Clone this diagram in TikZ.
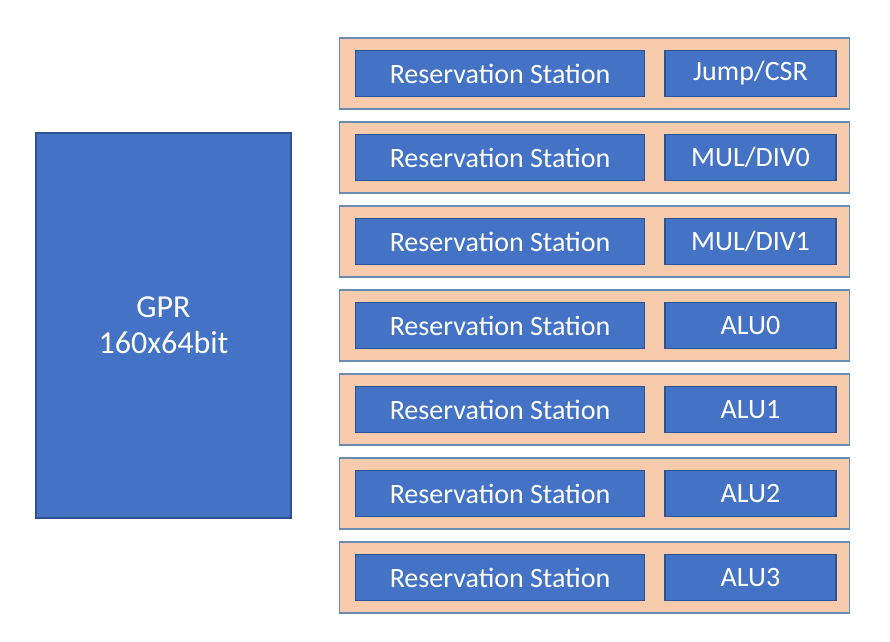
\documentclass[tikz,border=0pt]{standalone}
\usepackage{fontspec}
\setmainfont{Carlito}
\definecolor{boxblue}{HTML}{4472C4}
\definecolor{boxedge}{HTML}{2F528F}
\definecolor{rowfill}{HTML}{F8CBAD}
\definecolor{rowedge}{HTML}{6A8BB3}
\tikzset{
  gpr/.style={draw=boxedge, fill=boxblue, line width=1.2pt, text=white, align=center,
    minimum width=255pt, minimum height=385pt, font=\fontsize{32}{36}\selectfont},
  row/.style={draw=rowedge, fill=rowfill, line width=1.2pt, minimum width=510pt, minimum height=71pt},
  rs/.style={draw=boxedge, fill=boxblue, line width=1.2pt, text=white,
    minimum width=289pt, minimum height=46pt, font=\fontsize{28}{32}\selectfont},
  fu/.style={rs, minimum width=171pt}
}
\begin{document}
\begin{tikzpicture}[x=1pt,y=-1pt,inner sep=0pt]
\useasboundingbox (0,0) rectangle (890,641);

\node[gpr] (gpr) at (163.5,325.5) {GPR\\160x64bit};

% one row per functional unit
\node[row] (row1) at (594.75,73.5) {};
\node[rs] (rs1) at (500,73.5) {Reservation Station};
\node[fu] (fu1) at (750.5,73.5) {Jump/CSR};

\node[row] (row2) at (594.75,157.5) {};
\node[rs] (rs2) at (500,157.5) {Reservation Station};
\node[fu] (fu2) at (750.5,157.5) {MUL/DIV0};

\node[row] (row3) at (594.75,241.5) {};
\node[rs] (rs3) at (500,241.5) {Reservation Station};
\node[fu] (fu3) at (750.5,241.5) {MUL/DIV1};

\node[row] (row4) at (594.75,325.5) {};
\node[rs] (rs4) at (500,325.5) {Reservation Station};
\node[fu] (fu4) at (750.5,325.5) {ALU0};

\node[row] (row5) at (594.75,409.5) {};
\node[rs] (rs5) at (500,409.5) {Reservation Station};
\node[fu] (fu5) at (750.5,409.5) {ALU1};

\node[row] (row6) at (594.75,493.5) {};
\node[rs] (rs6) at (500,493.5) {Reservation Station};
\node[fu] (fu6) at (750.5,493.5) {ALU2};

\node[row] (row7) at (594.75,577.5) {};
\node[rs] (rs7) at (500,577.5) {Reservation Station};
\node[fu] (fu7) at (750.5,577.5) {ALU3};
\end{tikzpicture}
\end{document}
